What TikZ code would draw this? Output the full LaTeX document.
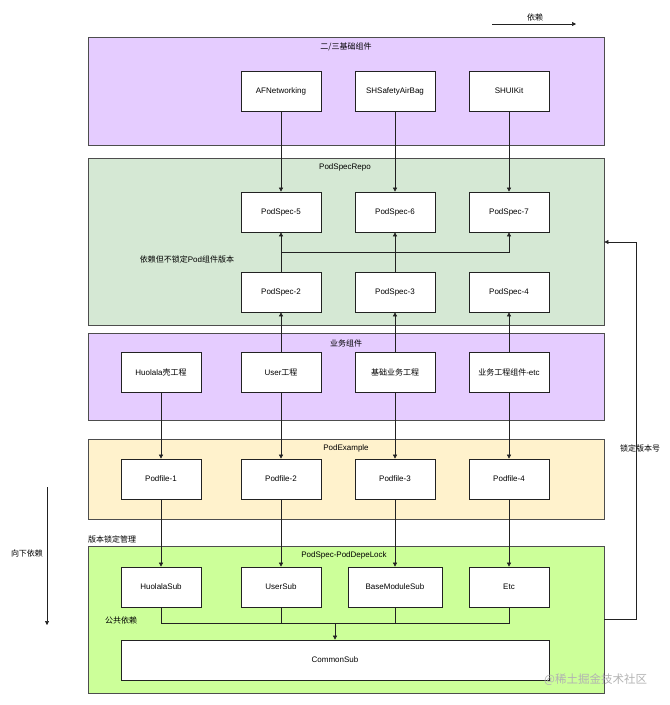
\documentclass[tikz,border=0pt]{standalone}
\usepackage{fontspec}
\setmainfont{Liberation Sans}
\newfontfamily\cjkfont{Noto Sans CJK SC}
\newcommand\zhtext[1]{{\cjkfont #1}}
\usetikzlibrary{arrows.meta,positioning}
\definecolor{purplefill}{HTML}{E5CCFF}
\definecolor{greenfill}{HTML}{D5E8D4}
\definecolor{yellowfill}{HTML}{FFF2CC}
\definecolor{limefill}{HTML}{CCFF99}
\definecolor{borderc}{HTML}{4D4D4D}
\definecolor{linec}{HTML}{222222}
\tikzset{
  container/.style={draw=borderc, line width=0.8pt, minimum width=516pt, inner sep=0pt},
  box/.style={draw=linec, fill=white, line width=0.7pt, minimum width=80pt, minimum height=40pt, inner sep=0pt, font=\fontsize{8}{9}\selectfont},
  ttl/.style={font=\fontsize{8}{9}\selectfont, inner sep=0pt},
  conn/.style={draw=linec, line width=0.6pt},
  arr/.style={conn, -{Triangle[length=4pt,width=4pt]}}
}
\begin{document}
\begin{tikzpicture}[x=1pt,y=-1pt]
\useasboundingbox (0,0) rectangle (670,705);
% containers
\node[container, fill=purplefill, minimum height=108pt] (c1) at (346,91) {};
\node[container, fill=greenfill, minimum height=167pt] (c2) at (346,241.5) {};
\node[container, fill=purplefill, minimum height=87pt] (c3) at (346,376.5) {};
\node[container, fill=yellowfill, minimum height=80pt] (c4) at (346,479) {};
\node[container, fill=limefill, minimum height=147pt] (c5) at (346,619.5) {};
% titles
\node[ttl] (t1) at (346,47) {\zhtext{二/三基础组件}};
\node[ttl] (t2) at (345,167) {PodSpecRepo};
\node[ttl] (t3) at (346,343) {\zhtext{业务组件}};
\node[ttl] (t4) at (346,448) {PodExample};
\node[ttl] (t5) at (344,555) {PodSpec-PodDepeLock};
% row 1
\node[box] (a1) at (281,91) {AFNetworking};
\node[box] (a2) at (395,91) {SHSafetyAirBag};
\node[box] (a3) at (509,91) {SHUIKit};
% podspec
\node[box] (p5) at (281,212) {PodSpec-5};
\node[box] (p6) at (395,212) {PodSpec-6};
\node[box] (p7) at (509,212) {PodSpec-7};
\node[box] (p2) at (281,292) {PodSpec-2};
\node[box] (p3) at (395,292) {PodSpec-3};
\node[box] (p4) at (509,292) {PodSpec-4};
% business
\node[box] (b1) at (161,372.5) {Huolala\zhtext{壳工程}};
\node[box] (b2) at (281,372.5) {User\zhtext{工程}};
\node[box] (b3) at (395,372.5) {\zhtext{基础业务工程}};
\node[box] (b4) at (509,372.5) {\zhtext{业务工程组件}-etc};
% podfiles
\node[box] (f1) at (161,479) {Podfile-1};
\node[box] (f2) at (281,479) {Podfile-2};
\node[box] (f3) at (395,479) {Podfile-3};
\node[box] (f4) at (509,479) {Podfile-4};
% subs
\node[box] (s1) at (161,587) {HuolalaSub};
\node[box] (s2) at (281,587) {UserSub};
\node[box, minimum width=94pt] (s3) at (395,587) {BaseModuleSub};
\node[box] (s4) at (509,587) {Etc};
\node[box, minimum width=428pt] (cs) at (335,660) {CommonSub};
% labels
\node[ttl] (lg) at (535,17) {\zhtext{依赖}};
\node[ttl] (ld) at (187,259) {\zhtext{依赖但不锁定}Pod\zhtext{组件版本}};
\node[ttl, anchor=west] (lv) at (88,539) {\zhtext{版本锁定管理}};
\node[ttl, anchor=west] (lp) at (105,620) {\zhtext{公共依赖}};
\node[ttl] (ll) at (640,448) {\zhtext{锁定版本号}};
\node[ttl] (lx) at (27,553) {\zhtext{向下依赖}};
\node[ttl, anchor=west, text=black!30, font=\fontsize{11.5}{12}\selectfont] (wm) at (544,680) {\zhtext{@稀土掘金技术社区}};
% legend arrows
\coordinate (g1) at (492,24);
\coordinate (g2) at (576,24);
\draw[arr] (g1) -- (g2);
\coordinate (d1) at (47,487);
\coordinate (d2) at (47,625);
\draw[arr] (d1) -- (d2);
% connectors
\draw[arr] (a1.south) -- (p5.north);
\draw[arr] (a2.south) -- (p6.north);
\draw[arr] (a3.south) -- (p7.north);
\draw[arr] (p2.north) -- (p5.south);
\draw[arr] (p3.north) -- (p6.south);
\coordinate (j1) at (281,252);
\draw[arr] (j1) -| (p7.south);
\draw[arr] (b2.north) -- (p2.south);
\draw[arr] (b3.north) -- (p3.south);
\draw[arr] (b4.north) -- (p4.south);
\draw[arr] (b1.south) -- (f1.north);
\draw[arr] (b2.south) -- (f2.north);
\draw[arr] (b3.south) -- (f3.north);
\draw[arr] (b4.south) -- (f4.north);
\draw[arr] (f1.south) -- (s1.north);
\draw[arr] (f2.south) -- (s2.north);
\draw[arr] (f3.south) -- (s3.north);
\draw[arr] (f4.south) -- (s4.north);
\coordinate (j2) at (335,623);
\draw[conn] (s1.south) |- (j2);
\draw[conn] (s2.south) |- (j2);
\draw[conn] (s3.south) |- (j2);
\draw[conn] (s4.south) |- (j2);
\draw[arr] (j2) -- (cs.north);
\coordinate (rb) at (636,619.5);
\coordinate (rt) at (636,242);
\draw[arr] (c5.east) -- (rb) -- (rt) -- (c2.east |- rt);
\end{tikzpicture}
\end{document}
